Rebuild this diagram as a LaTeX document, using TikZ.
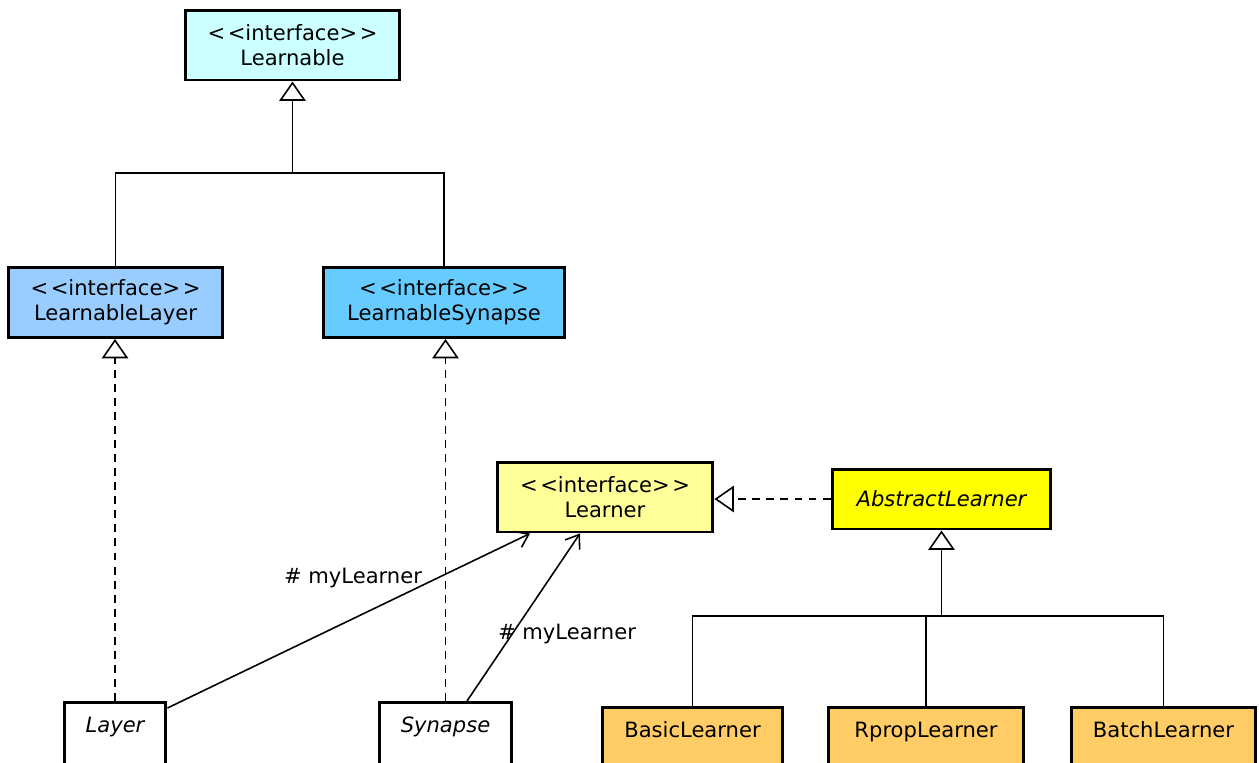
\documentclass[tikz,border=0pt]{standalone}
\usepackage{fontspec}
\setmainfont{DejaVu Sans}
\usepackage{tikz}
\usetikzlibrary{positioning,arrows.meta}
\usepackage{xcolor}
\definecolor{learnablecolor}{RGB}{204,255,255}
\definecolor{layercolor}{RGB}{153,204,255}
\definecolor{synapsecolor}{RGB}{102,204,255}
\definecolor{learnercolor}{RGB}{255,255,153}
\definecolor{abstractcolor}{RGB}{255,255,0}
\definecolor{implcolor}{RGB}{255,204,102}

\begin{document}
\begin{tikzpicture}[
  x=0.02cm, y=-0.02cm,
  every node/.style={font=\fontsize{12}{14.4}\selectfont},
  box/.style={draw,line width=1.7pt,align=center,inner sep=0pt,minimum height=1.4cm},
  leaf/.style={box,anchor=north,minimum height=0pt,text height=0.6cm,text depth=1cm},
  link/.style={line width=0.9pt},
  gen/.style={link,-{Triangle[fill=white,length=11pt,width=15pt]}},
  real/.style={gen,dash pattern=on 4.5pt off 3.5pt},
  nav/.style={link,-{Straight Barb[length=7pt,width=10pt]}}
]
  \useasboundingbox (0,0) rectangle (1259,762);
  \clip (0,0) rectangle (1259,762);
  % interfaces
  \node[box,fill=learnablecolor,minimum width=4.3cm]  (L)  at (292.5,45)  {<\kern1.5pt<interface>\kern1.5pt>\\Learnable};
  \node[box,fill=layercolor,minimum width=4.3cm]      (LL) at (115.5,302.5) {<\kern1.5pt<interface>\kern1.5pt>\\LearnableLayer};
  \node[box,fill=synapsecolor,minimum width=4.84cm]   (LS) at (444,302.5) {<\kern1.5pt<interface>\kern1.5pt>\\LearnableSynapse};
  \node[box,fill=learnercolor,minimum width=4.32cm]   (LR) at (605,497)   {<\kern1.5pt<interface>\kern1.5pt>\\Learner};
  \node[box,fill=abstractcolor,minimum width=4.38cm,minimum height=1.2cm] (AL) at (941.5,499) {\itshape AbstractLearner};
  % concrete classes
  \node[leaf,fill=white,minimum width=2.04cm]    (Ly)  at (115,701)    {\itshape Layer};
  \node[leaf,fill=white,minimum width=2.66cm]    (Sy)  at (445.5,701)  {\itshape Synapse};
  \node[leaf,fill=implcolor,minimum width=3.62cm] (BL)  at (692.5,706)  {BasicLearner};
  \node[leaf,fill=implcolor,minimum width=3.92cm] (RL)  at (926,706)    {RpropLearner};
  \node[leaf,fill=implcolor,minimum width=3.7cm]  (BaL) at (1163.5,706) {BatchLearner};
  % inheritance
  \coordinate (top) at (292.5,173);
  \draw[link] (LL.north) |- (top) -| (LS.north);
  \draw[gen] (top) -- (L.south);
  \coordinate (mid) at (941.5,616);
  \draw[link] (BL.north) |- (mid) -| (BaL.north);
  \draw[link] (RL.north) -- (RL.north |- mid);
  \draw[gen] (mid) -- (AL.south);
  % realization
  \draw[real] (Ly.north) -- (Ly.north |- LL.south);
  \draw[real] (Sy.north) -- (Sy.north |- LS.south);
  \draw[real] (AL.west) -- (AL.west -| LR.east);
  % associations
  \draw[nav] ([yshift=-0.14cm]Ly.north east) -- ([xshift=-1.5cm]LR.south);
  \draw[nav] ([xshift=0.43cm]Sy.north) -- ([xshift=-0.5cm]LR.south);
  \node (m1) at (353,578) {\# myLearner};
  \node (m2) at (567,634) {\# myLearner};
\end{tikzpicture}
\end{document}
